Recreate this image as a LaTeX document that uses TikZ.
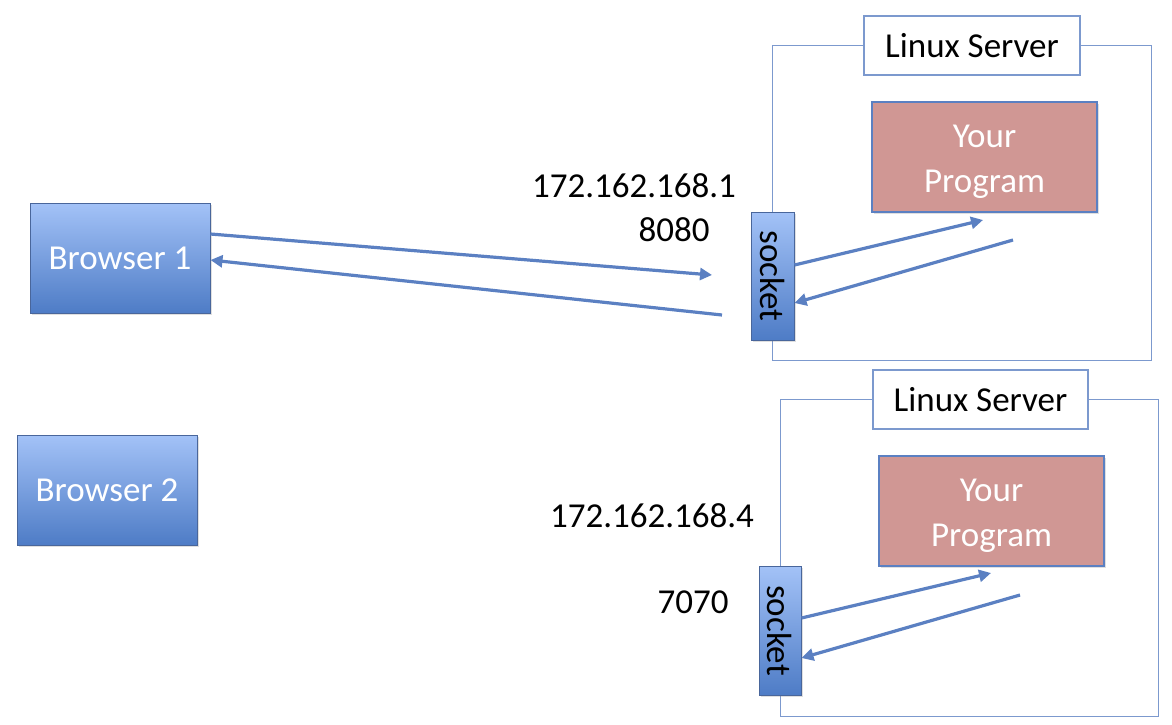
\documentclass[tikz,border=0pt]{standalone}
\usepackage{fontspec}
\setmainfont{Carlito}
\usetikzlibrary{arrows.meta,shadows}
\definecolor{edge}{HTML}{5B80C2}
\definecolor{gradtop}{HTML}{A3C2F7}
\definecolor{gradbot}{HTML}{4E7CC6}
\definecolor{prog}{HTML}{D09794}
\begin{document}
\begin{tikzpicture}[x=0.5pt,y=-0.5pt,
  txt/.style={font=\fontsize{17.5pt}{21pt}\selectfont},
  bluebox/.style={draw=edge!80!black, line width=0.5pt, top color=gradtop, bottom color=gradbot,
    drop shadow={shadow xshift=1pt, shadow yshift=-1pt, opacity=0.25}, inner sep=0pt},
  progbox/.style={draw=edge, line width=0.7pt, fill=prog, inner sep=0pt,
    drop shadow={shadow xshift=1pt, shadow yshift=-1pt, opacity=0.25}},
  progtext/.style={txt, text=white, align=center, inner sep=0pt},
  frame/.style={draw=edge!80, line width=0.5pt},
  labelbox/.style={draw=edge!80, line width=0.7pt, fill=white, inner sep=0pt},
  conn/.style={draw=edge, line width=1.6pt, -{Triangle[length=6pt,width=6pt]}}
]
\useasboundingbox (0,0) rectangle (1172,724);

% browsers
\node[bluebox, txt, text=white, minimum width=90pt, minimum height=55pt] (b1) at (120,258) {Browser 1};
\node[bluebox, txt, text=white, minimum width=90pt, minimum height=55pt] (b2) at (107,490) {Browser 2};

% first server
\draw[frame] (772,45) rectangle (1151,360);
\node[labelbox, txt, minimum width=108pt, minimum height=29.5pt] (ls1) at (972,45.5) {Linux Server};
\node[progbox, minimum width=112.5pt, minimum height=55pt] (p1) at (984.5,157) {};
\node[progtext] (p1t) at ([yshift=-2.5pt]p1.center) {Your\\[1.5pt]Program};
\node[bluebox, minimum width=21.5pt, minimum height=64pt] (s1) at (772.5,276) {};
\node[txt, rotate=-90] (s1t) at (s1.center) {socket};
\node[txt] (ip1) at (634,186) {172.162.168.1};
\node[txt] (port1) at (674,230) {8080};

% second server
\draw[frame] (780,399) rectangle (1158,716);
\node[labelbox, txt, minimum width=107.5pt, minimum height=29.5pt] (ls2) at (980.5,399.5) {Linux Server};
\node[progbox, minimum width=112.5pt, minimum height=55pt] (p2) at (991.5,511) {};
\node[progtext] (p2t) at ([yshift=-2.5pt]p2.center) {Your\\[1.5pt]Program};
\node[bluebox, minimum width=21pt, minimum height=64.5pt] (s2) at (780,630.5) {};
\node[txt, rotate=-90] (s2t) at (s2.center) {socket};
\node[txt] (ip2) at (652,516) {172.162.168.4};
\node[txt] (port2) at (693,602) {7070};

% connectors of the first server
\coordinate (a1) at (712,275);
\coordinate (r1) at (722,315);
\coordinate (pin1) at (983,220);
\coordinate (pout1) at (1013,240);
\draw[conn] (b1.east |- 0,234) -- (a1);
\draw[conn] (r1) -- (b1.east |- 0,260);
\draw[conn] (s1.east |- 0,265) -- (pin1);
\draw[conn] (pout1) -- (s1.east |- 0,303);

% connectors of the second server
\coordinate (pin2) at (991,573);
\coordinate (pout2) at (1020,595);
\draw[conn] (s2.east |- 0,618) -- (pin2);
\draw[conn] (pout2) -- (s2.east |- 0,658);
\end{tikzpicture}
\end{document}
